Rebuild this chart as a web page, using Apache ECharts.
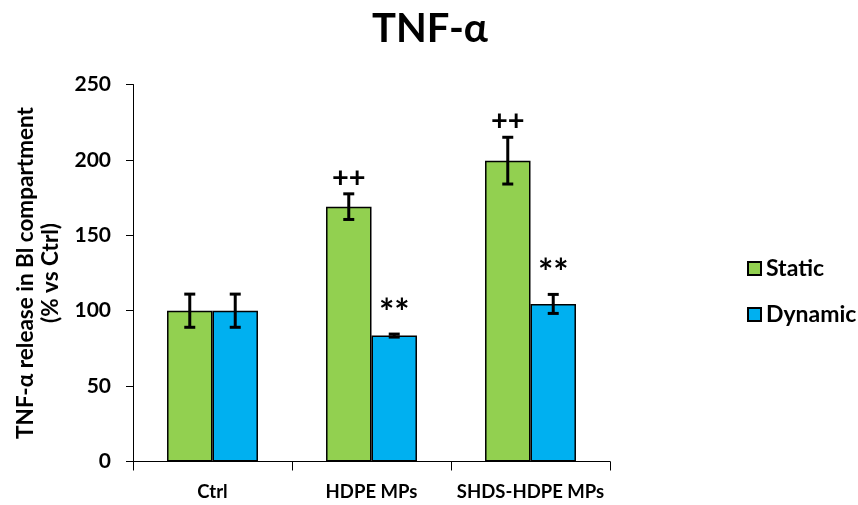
<!DOCTYPE html>
<html>
<head>
<meta charset="utf-8">
<script src="https://cdn.jsdelivr.net/npm/echarts@6/dist/echarts.min.js"></script>
<style>
  html, body { margin: 0; padding: 0; background: #fff; }
  #chart { width: 858px; height: 505px; }
</style>
</head>
<body>
<div id="chart"></div>
<script>
// TNF-α release, percentage of control
const categories = ['Ctrl', 'HDPE MPs', 'SHDS-HDPE MPs'];
const staticValues = [100, 169, 199.5];
const staticErrors = [11, 8.5, 15.5];
const dynamicValues = [100, 83.5, 104.5];
const dynamicErrors = [11, 1, 6.3];
const staticMarks = ['', '++', '++'];
const dynamicMarks = ['', '**', '**'];
const yTicks = [0, 50, 100, 150, 200, 250];

const FONT = 'Lato';
const BAR_FRACTION = 0.286;

function errorSeries(name, values, errors, marks, side) {
  return {
    name: name + ' SD',
    type: 'custom',
    z: 5,
    data: values.map((v, i) => [i, v, errors[i]]),
    renderItem: function (params, api) {
      const idx = api.value(0);
      const val = api.value(1);
      const err = api.value(2);
      const mark = marks[idx];
      const band = api.size([1, 0])[0];
      const center = api.coord([idx, 0])[0] + side * band * BAR_FRACTION / 2;
      const top = api.coord([idx, val + err])[1];
      const bottom = api.coord([idx, val - err])[1];
      const cap = 5.5;
      const style = { stroke: '#000', lineWidth: 3 };
      const children = [
        { type: 'line', shape: { x1: center, y1: top, x2: center, y2: bottom }, style },
        { type: 'line', shape: { x1: center - cap, y1: top, x2: center + cap, y2: top }, style },
        { type: 'line', shape: { x1: center - cap, y1: bottom, x2: center + cap, y2: bottom }, style }
      ];
      if (mark) {
        const isStar = side > 0;
        children.push({
          type: 'text',
          style: {
            text: mark,
            x: center,
            y: isStar ? top - 3 : top - 2,
            align: 'center',
            verticalAlign: 'bottom',
            font: 'bold ' + (isStar ? 36 : 29) + 'px ' + FONT,
            fill: '#000'
          }
        });
      }
      return { type: 'group', children };
    }
  };
}

const chart = echarts.init(document.getElementById('chart'), null, { renderer: 'canvas' });
chart.setOption({
  animation: false,
  title: {
    text: 'TNF-α',
    left: 425,
    top: 4,
    textAlign: 'center',
    textStyle: { fontFamily: FONT, fontWeight: 'bold', fontSize: 40, color: '#000' }
  },
  legend: {
    orient: 'vertical',
    left: 742,
    top: 252,
    itemWidth: 13,
    itemHeight: 13,
    itemGap: 23,
    icon: 'rect',
    data: ['Static', 'Dynamic'],
    textStyle: { fontFamily: FONT, fontWeight: 'bold', fontSize: 23, color: '#000' }
  },
  grid: { left: 133, right: 248, top: 84.5, bottom: 43.5, containLabel: false, outerBoundsMode: 'none' },
  xAxis: {
    type: 'category',
    data: categories,
    axisLine: { lineStyle: { color: '#000', width: 1 } },
    axisTick: { show: true, interval: 0, alignWithLabel: false, length: 9, lineStyle: { color: '#000' } },
    axisLabel: { interval: 0, margin: 21, fontFamily: FONT, fontWeight: 'bold', fontSize: 18.5, color: '#000' }
  },
  yAxis: {
    type: 'value',
    min: yTicks[0],
    max: yTicks[yTicks.length - 1],
    interval: 50,
    name: 'TNF-α release in Bl compartment\n(% vs Ctrl)',
    nameLocation: 'middle',
    nameGap: 70,
    nameRotate: 90,
    nameTextStyle: { fontFamily: FONT, fontWeight: 'bold', fontSize: 22.5, color: '#000', lineHeight: 25 },
    axisLine: { show: true, lineStyle: { color: '#000', width: 1 } },
    axisTick: { show: true, length: 7, lineStyle: { color: '#000' } },
    splitLine: { show: false },
    axisLabel: { margin: 22, fontFamily: FONT, fontWeight: 'bold', fontSize: 21, color: '#000' }
  },
  series: [
    {
      name: 'Static',
      type: 'bar',
      data: staticValues,
      barWidth: (BAR_FRACTION * 100) + '%',
      barGap: '0%',
      itemStyle: { color: '#92D050', borderColor: '#000', borderWidth: 1.5 }
    },
    {
      name: 'Dynamic',
      type: 'bar',
      data: dynamicValues,
      barWidth: (BAR_FRACTION * 100) + '%',
      barGap: '0%',
      itemStyle: { color: '#00B0F0', borderColor: '#000', borderWidth: 1.5 }
    },
    errorSeries('Static', staticValues, staticErrors, staticMarks, -1),
    errorSeries('Dynamic', dynamicValues, dynamicErrors, dynamicMarks, 1)
  ]
});
</script>
</body>
</html>
